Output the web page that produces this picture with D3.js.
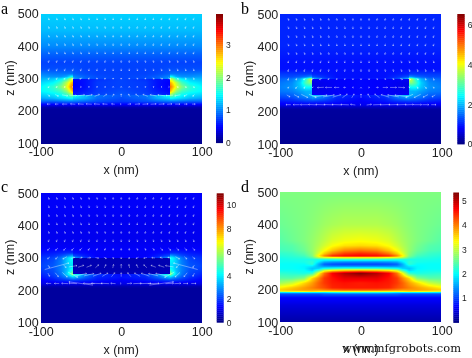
<!DOCTYPE html>
<html><head><meta charset="utf-8">
<style>html,body{margin:0;padding:0;background:#fff;width:472px;height:358px;overflow:hidden}
canvas,svg{position:absolute;left:0;top:0}canvas{filter:blur(.45px)}</style>
<script src="https://cdn.jsdelivr.net/npm/d3@7"></script></head><body>
<canvas id="heat" width="472" height="358"></canvas><svg id="art" width="472" height="358"></svg>
<script>
// Field samples, half panel (mirrored about x=0), as a fraction of the colour bar range.
const xNodes=[0,30,45,59.9,60,63,68,75,85,100];
const zNodes=[500,450,400,375,350,330,315,306,300,299.9,288,275,262,250,249.9,240,230,220,212,205,100];
const row=v=>xNodes.map(()=>v);
const fieldA=[row(.33),row(.31),row(.26),row(.22),row(.19),
[.19,.19,.19,.20,.20,.20,.20,.20,.20,.20],[.19,.19,.20,.22,.24,.24,.24,.24,.24,.25],[.19,.20,.22,.26,.40,.38,.30,.27,.27,.28],
[.19,.20,.22,.28,.55,.55,.42,.36,.32,.30],[.19,.17,.14,.13,.55,.55,.42,.36,.32,.30],[.19,.18,.14,.12,.72,.66,.56,.44,.37,.34],
[.19,.18,.14,.12,.78,.72,.60,.50,.42,.37],[.20,.18,.15,.13,.72,.64,.52,.44,.40,.37],[.21,.19,.17,.15,.52,.48,.42,.38,.35,.33],
[.21,.24,.31,.40,.52,.48,.42,.38,.35,.33],[.20,.23,.30,.34,.38,.38,.36,.34,.31,.29],[.18,.20,.22,.24,.24,.24,.24,.23,.22,.22],
row(.12),row(.05),row(.03),row(.02)];
const fieldB=[row(.16),row(.16),row(.16),row(.15),row(.14),row(.14),
[.14,.14,.15,.16,.18,.18,.18,.18,.18,.18],[.14,.14,.17,.21,.28,.27,.24,.22,.20,.20],[.14,.15,.20,.34,.58,.56,.42,.30,.24,.22],
[.13,.12,.12,.12,.58,.56,.42,.30,.24,.22],[.13,.12,.11,.10,.50,.50,.45,.33,.26,.24],[.13,.12,.11,.10,.36,.38,.38,.32,.27,.25],
[.13,.12,.11,.11,.30,.30,.30,.28,.25,.24],[.13,.12,.12,.12,.30,.30,.28,.25,.22,.21],[.14,.18,.26,.34,.30,.30,.28,.25,.22,.21],
[.13,.16,.22,.26,.25,.24,.23,.22,.19,.18],[.12,.14,.16,.17,.17,.17,.17,.16,.15,.14],row(.11),row(.06),row(.03),row(.02)];
const fieldC=[row(.12),row(.12),row(.11),row(.11),row(.11),row(.12),
[.12,.12,.13,.14,.17,.17,.17,.16,.15,.14],[.12,.12,.15,.20,.30,.28,.24,.20,.17,.16],[.12,.13,.18,.30,.38,.38,.32,.24,.19,.17],
[.05,.05,.05,.05,.38,.38,.32,.24,.19,.17],[.05,.05,.05,.05,.36,.36,.32,.25,.20,.18],[.05,.05,.05,.05,.34,.34,.31,.25,.21,.19],
[.05,.05,.05,.06,.42,.38,.31,.25,.20,.18],[.06,.06,.06,.07,.55,.45,.33,.24,.19,.16],[.13,.18,.26,.45,.55,.45,.33,.24,.19,.16],
[.14,.16,.22,.32,.32,.29,.25,.21,.17,.14],[.12,.14,.16,.18,.18,.18,.17,.16,.14,.12],row(.10),row(.05),row(.03),row(.03)];
const xNodesD=[0,20,35,45,52,60,70,85,100];
const zNodesD=[500,400,350,335,320,310,303,298,292,285,278,272,265,258,250,235,220,205,198,194,190,186,175,150,100];
const fieldD=[[.50,.50,.50,.50,.50,.50,.50,.50,.50],[.55,.55,.54,.53,.52,.51,.50,.49,.48],[.62,.61,.59,.56,.54,.52,.50,.48,.46],
[.66,.65,.62,.58,.55,.52,.49,.46,.45],[.76,.74,.68,.62,.57,.52,.48,.45,.44],[.84,.82,.76,.68,.60,.51,.46,.43,.42],
[.88,.87,.84,.75,.64,.50,.44,.42,.41],[.62,.62,.60,.58,.55,.46,.42,.41,.40],[.42,.42,.41,.40,.40,.40,.40,.40,.39],
[.27,.27,.28,.30,.36,.42,.40,.39,.39],[.19,.19,.20,.22,.30,.42,.38,.38,.38],[.25,.25,.25,.26,.30,.36,.37,.38,.38],
[.42,.42,.40,.38,.33,.32,.37,.38,.38],[.72,.70,.66,.60,.45,.34,.38,.39,.39],[1,.95,.88,.76,.62,.42,.40,.41,.42],
[.90,.90,.86,.82,.74,.66,.50,.46,.46],[.85,.86,.85,.82,.78,.72,.66,.57,.53],[.85,.85,.84,.80,.78,.75,.72,.68,.64],
[.78,.78,.76,.74,.72,.72,.72,.70,.68],[.62,.62,.62,.62,.64,.66,.64,.62,.58],[.35,.35,.33,.30,.30,.30,.30,.30,.30],
[.22,.22,.22,.22,.20,.20,.20,.20,.20],[.13,.13,.13,.13,.13,.13,.13,.13,.13],[.09,.09,.09,.09,.09,.09,.09,.09,.09],[.04,.04,.04,.04,.04,.04,.04,.04,.04]];
// Arrows: columns x=-90..0, mirrored for x>0. u, w in nm.
const arrowX=[-90,-80,-70,-60,-50,-40,-30,-20,-10,0];
const arrowZ=[484,458,431,405,379,353,327,300,274,248,221];
const d7=[-7,-7,-7,-7,-7,-7,-7,-7,-7,-7], s1=[1,1,1,1,1,.5,.5,.5,0,0], s2=[-1,-1,-1,-1,-1,-.5,-.5,-.5,0,0];
const uA=[s1,s1,s1,s1,s1,s2,s2,[-1,-1,-2,-3,-3,-2,-1,-1,0,0],[-2,-2,-2,0,1,1,1,.5,0,0],[2,4,7,9,9,8,6,4,2,0],[-4,-4,-6,-6,-7,-7,-7,-6,-4,0]];
const wA=[d7,d7,d7,d7,d7,d7,d7,[-6,-6,-5,-4,-3,-3,-3,-4,-4,-4],[-4,-3,-2,0,0,1,2,3,3,3],[-6,-5,-3,-1,3,4,6,7,8,9],[0,0,0,1,1,1,1,1,1,0]];
const uB=[s1,s1,s1,s1,s1,s2,s2,[-1,-1,-2,-3,-3,-2,-1,-1,0,0],[-1,-2,-1,0,-8,-8,-6,-3,-1,0],[4,6,8,9,16,14,10,6,3,0],[-6,-8,-10,-10,-12,-12,-12,-10,-6,0]];
const wB=[d7,d7,d7,d7,d7,d7,[-8,-8,-8,-8,-8,-8,-8,-8,-8,-8],[-8,-7,-5,-4,-3,-3,-3,-4,-5,-5],[-5,-6,-6,-2,-1,0,0,0,1,1],[-6,-8,-10,-10,5,6,8,11,12,12],[0,0,0,1,1,1,1,1,2,0]];
const uC=[s1,s1,s1,s1,s1,s2,[-3,-3,-3,-3,-3,-2,-1,-1,0,0],[-3,-3,-5,4,3,4,4,3,1,0],[2,30,3,10,7,6,4,2,1,0],[2,4,6,12,14,12,10,7,4,0],[-6,-6,-8,-10,-30,-14,-14,-10,-6,0]];
const wC=[d7,d7,d7,d7,d7,d7,d7,[-6,-7,-7,3,3,1,-2,-4,-5,-6],[-8,20,-8,4,6,6,9,10,11,12],[-10,-12,-14,-16,8,7,9,10,12,12],[0,0,1,1,10,1,1,1,1,0]];

const tA=[0,1,2,3], tB=[0,2,4,6], tC=[0,2,4,6,8,10], tD=[1,2,3,4,5];
const panels=[
 {l:'a',L:[1,14],x0:40.7,x1:201.7,y0:13.7,y1:143.3,f:fieldA,xn:xNodes,zn:zNodes,u:uA,w:wA,cx:[216,223],cy:[14,142.7],max:3.96,t:tA,zl:10},
 {l:'b',L:[241,14],x0:280.3,x1:441.7,y0:14,y1:144,f:fieldB,xn:xNodes,zn:zNodes,u:uB,w:wB,cx:[457.3,464.7],cy:[14,144],max:6.56,t:tB,zl:249},
 {l:'c',L:[1,192],x0:40.7,x1:201.7,y0:193,y1:322.7,f:fieldC,xn:xNodes,zn:zNodes,u:uC,w:wC,cx:[216.7,223.7],cy:[193.3,322.3],max:10.98,t:tC,zl:10},
 {l:'d',L:[241,192],x0:280.3,x1:441.7,y0:192.3,y1:322.3,f:fieldD,xn:xNodesD,zn:zNodesD,cx:[453.3,459],cy:[192.5,322.5],max:5.33,t:tD,zl:249}
];
const jet=d3.scaleLinear().domain([0,.125,.375,.625,.875,1]).range(["#00007f","#0000ff","#00ffff","#ffff00","#ff0000","#7f0000"]).clamp(true);
const svg=d3.select('#art'), ctx=document.getElementById('heat').getContext('2d');
const font='"Liberation Sans",Arial,sans-serif';
panels.forEach(p=>{
 const X=d3.scaleLinear().domain([-100,100]).range([p.x0,p.x1]), Z=d3.scaleLinear().domain([100,500]).range([p.y1,p.y0]);
 const ix=d3.scaleLinear().domain(p.xn).range(d3.range(p.xn.length)).clamp(true), iz=d3.scaleLinear().domain(p.zn).range(d3.range(p.zn.length)).clamp(true);
 const W=Math.round(p.x1-p.x0), H=Math.round(p.y1-p.y0), img=ctx.createImageData(W,H);
 for(let j=0;j<H;j++)for(let i=0;i<W;i++){
  const fx=ix(Math.abs(X.invert(p.x0+i+.5))), fz=iz(Z.invert(p.y0+j+.5));
  const a=Math.min(Math.floor(fx),p.xn.length-2), b=Math.min(Math.floor(fz),p.zn.length-2), s=fx-a, q=fz-b;
  const v=(p.f[b][a]*(1-s)+p.f[b][a+1]*s)*(1-q)+(p.f[b+1][a]*(1-s)+p.f[b+1][a+1]*s)*q;
  const c=d3.rgb(jet(v)), k=(j*W+i)*4;
  img.data[k]=c.r;img.data[k+1]=c.g;img.data[k+2]=c.b;img.data[k+3]=255;
 }
 ctx.putImageData(img,Math.round(p.x0),Math.round(p.y0));
 const g=svg.append('g');
 // arrows
 if(p.u){
  const items=[];
  arrowZ.forEach((z,r)=>arrowX.forEach((x,c)=>{
   items.push({x,z,u:p.u[r][c],w:p.w[r][c]});
   if(x!==0)items.push({x:-x,z,u:-p.u[r][c],w:p.w[r][c]});
  }));
  g.append('g').selectAll('path').data(items).join('path')
   .attr('d',d=>{
    const x1=X(d.x-d.u/2),y1=Z(d.z-d.w/2),x2=X(d.x+d.u/2),y2=Z(d.z+d.w/2);
    const a=Math.atan2(y2-y1,x2-x1),h=1.3;
    return `M${x1},${y1}L${x2},${y2}M${x2-h*Math.cos(a-.6)},${y2-h*Math.sin(a-.6)}L${x2},${y2}L${x2-h*Math.cos(a+.6)},${y2-h*Math.sin(a+.6)}`;
   }).attr('fill','none').attr('stroke','#fff').attr('stroke-width',.55).attr('stroke-opacity',.7);
 }
 // axes
 const ax=d3.axisBottom(X).tickValues([-100,0,100]).tickSize(0).tickPadding(4).tickFormat(String);
 const az=d3.axisLeft(Z).tickValues([100,200,300,400,500]).tickSize(0).tickPadding(2).tickFormat(String);
 const gx=g.append('g').attr('transform',`translate(0,${p.y1})`).call(ax), gz=g.append('g').attr('transform',`translate(${p.x0},0)`).call(az);
 [gx,gz].forEach(s=>{s.select('.domain').remove();s.selectAll('text').attr('font-family',font).attr('font-size',12.5).attr('fill','#222');});
 g.append('text').attr('x',(p.x0+p.x1)/2).attr('y',p.y1+31).attr('text-anchor','middle').attr('font-family',font).attr('font-size',12.5).attr('fill','#222').text('x (nm)');
 g.append('text').attr('transform',`translate(${p.zl+4},${(p.y0+p.y1)/2-.5}) rotate(-90)`).attr('text-anchor','middle').attr('font-family',font).attr('font-size',12.5).attr('fill','#222').text('z (nm)');
 g.append('text').attr('x',p.L[0]).attr('y',p.L[1]).attr('font-family','"Liberation Serif",serif').attr('font-size',16).attr('fill','#000').text(p.l);
 // colour bar
 const C=d3.scaleLinear().domain([0,p.max]).range([p.cy[1],p.cy[0]]);
 const steps=d3.range(0,64);
 g.append('g').selectAll('rect').data(steps).join('rect')
  .attr('x',p.cx[0]).attr('width',p.cx[1]-p.cx[0])
  .attr('y',i=>C((i+1)/64*p.max)).attr('height',i=>C(i/64*p.max)-C((i+1)/64*p.max)+.4)
  .attr('fill',i=>jet((i+.5)/64));
 const ac=d3.axisRight(C).tickValues(p.t).tickSize(0).tickPadding(3).tickFormat(d3.format('d'));
 const gc=g.append('g').attr('transform',`translate(${p.cx[1]},0)`).call(ac);
 gc.select('.domain').remove();
 gc.selectAll('text').attr('font-family',font).attr('font-size',8.5).attr('fill','#222');
});
svg.append('text').attr('x',342).attr('y',352).attr('font-family','"DejaVu Serif",serif').attr('font-size',11.5).attr('textLength',119).attr('lengthAdjust','spacingAndGlyphs').attr('fill','#111').text('www.mfgrobots.com');
</script></body></html>
